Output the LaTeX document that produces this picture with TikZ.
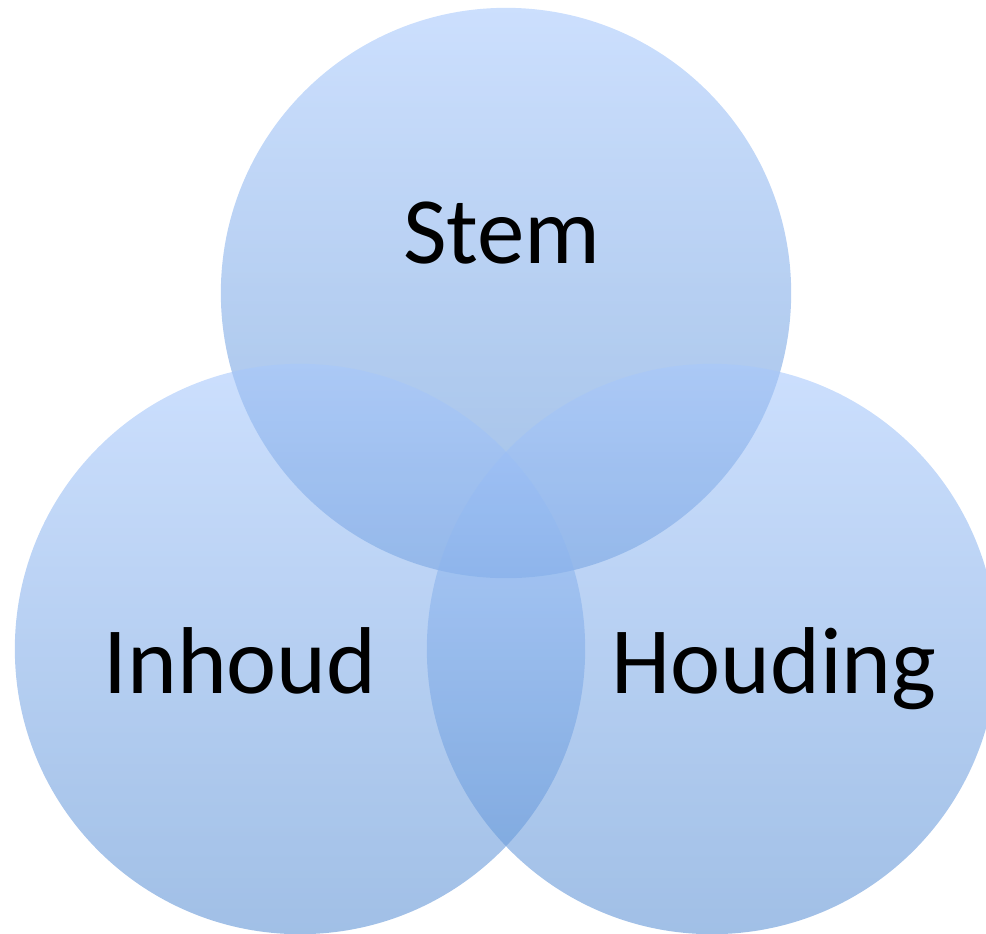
\documentclass[tikz,border=0pt]{standalone}
\usepackage{fontspec}
\setmainfont{Carlito}
\usetikzlibrary{positioning}
\definecolor{venntop}{RGB}{167,200,252}
\definecolor{vennbot}{RGB}{92,145,212}
\tikzstyle{venn} = [top color=venntop, bottom color=vennbot, fill opacity=0.58, draw=none]
\tikzstyle{setname} = [anchor=base, inner sep=0pt, font=\fontsize{27}{32}\selectfont, text=black]

\begin{document}
\begin{tikzpicture}[x=0.01cm, y=-0.01cm]

    \useasboundingbox (0,0) rectangle (986,933);

    % Circles
    \shade[venn] (506,293) circle (2.85cm);
    \shade[venn] (300,649) circle (2.85cm);
    \shade[venn] (712,649) circle (2.85cm);

    % Names
    \node (stem) [setname] at (502,263) {Stem};
    \node (inhoud) [setname] at (240,693) {Inhoud};
    \node (houding) [setname] at (774,693) {Houding};

\end{tikzpicture}
\end{document}
